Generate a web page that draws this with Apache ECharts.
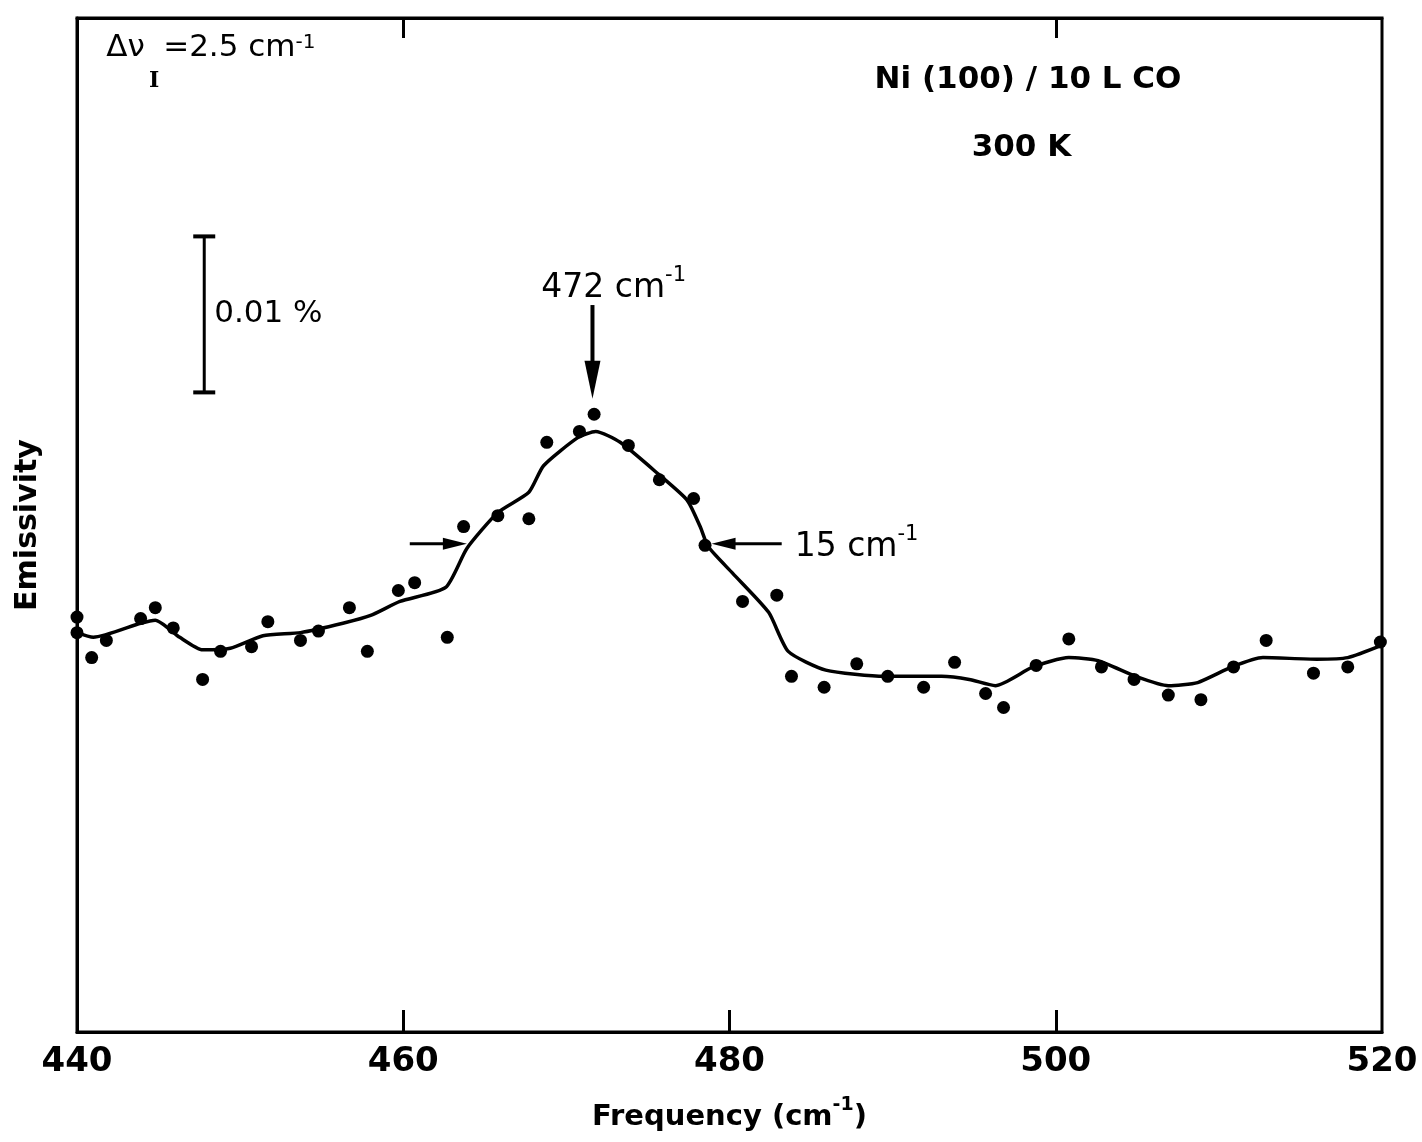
<!DOCTYPE html>
<html>
<head>
<meta charset="utf-8">
<script src="https://cdn.jsdelivr.net/npm/echarts@6/dist/echarts.min.js"></script>
<style>
  html, body { margin: 0; padding: 0; background: #fff; }
  #chart { width: 1422px; height: 1142px; }
</style>
</head>
<body>
<div id="chart"></div>
<script>
// measured points (frequency cm-1, emissivity in %)
var dotFreq = [440.0, 440.0, 440.9, 441.8, 443.9, 444.8, 445.9, 447.7, 448.8, 450.7,
  451.7, 453.7, 454.8, 456.7, 457.8, 459.7, 460.7, 462.7, 463.7, 465.8,
  467.7, 468.8, 470.8, 471.7, 473.8, 475.7, 477.8, 478.5, 480.8, 482.9,
  483.8, 485.8, 487.8, 489.7, 491.9, 493.8, 495.7, 496.8, 498.8, 500.8,
  502.8, 504.8, 506.9, 508.9, 510.9, 512.9, 515.8, 517.9, 519.9];
var dotEmis = [0.0266, 0.0256, 0.0240, 0.0251, 0.0265, 0.0272, 0.0259, 0.0226, 0.0244, 0.0247,
  0.0263, 0.0251, 0.0257, 0.0272, 0.0244, 0.0283, 0.0288, 0.0253, 0.0324, 0.0331,
  0.0329, 0.0378, 0.0385, 0.0396, 0.0376, 0.0354, 0.0342, 0.0312, 0.0276, 0.0280,
  0.0228, 0.0221, 0.0236, 0.0228, 0.0221, 0.0237, 0.0217, 0.0208, 0.0235, 0.0252,
  0.0234, 0.0226, 0.0216, 0.0213, 0.0234, 0.0251, 0.0230, 0.0234, 0.0250];

// smoothed curve
var fitFreq = [440.0, 441.0, 443.9, 444.8, 446.3, 447.7, 449.4, 451.4, 453.7, 456.3,
  458.0, 459.8, 462.6, 463.9, 465.8, 467.7, 468.6, 470.7, 471.8, 473.3,
  475.6, 477.4, 478.2, 478.7, 480.2, 482.4, 483.6, 485.9, 489.5, 493.0,
  494.7, 496.3, 498.6, 500.8, 502.6, 504.9, 506.9, 508.7, 510.8, 512.7,
  516.0, 517.9, 520.0];
var fitEmis = [0.0256, 0.0253, 0.0262, 0.0264, 0.0253, 0.0245, 0.0246, 0.0254, 0.0256, 0.0262,
  0.0267, 0.0276, 0.0285, 0.0310, 0.0333, 0.0346, 0.0363, 0.0381, 0.0385, 0.0378,
  0.0358, 0.0341, 0.0324, 0.0311, 0.0294, 0.0269, 0.0244, 0.0232, 0.0228, 0.0228,
  0.0226, 0.0222, 0.0234, 0.0240, 0.0238, 0.0228, 0.0222, 0.0224, 0.0234, 0.0240,
  0.0239, 0.0240, 0.0248];

var xTickLabels = [440, 460, 480, 500, 520];
var bottomTicks = [460, 480, 500];
var topTicks = [460, 500];

var FONT = 'DejaVu Sans';

var dots = dotFreq.map(function (f, i) { return [f, dotEmis[i]]; });
var fit = fitFreq.map(function (f, i) { return [f, fitEmis[i]]; });

var chart = echarts.init(document.getElementById('chart'));

var option = {
  animation: false,
  backgroundColor: '#fff',
  grid: {
    left: 77, right: 40, top: 18, bottom: 110,
    show: true, borderColor: '#000', borderWidth: 3
  },
  xAxis: [{
    type: 'value',
    min: 440, max: 520, interval: 20,
    position: 'bottom',
    axisLine: { show: true, lineStyle: { color: '#000', width: 3 } },
    axisTick: { show: true, inside: true, length: 22, customValues: bottomTicks, lineStyle: { color: '#000', width: 3 } },
    axisLabel: {
      color: '#000', fontFamily: FONT, fontSize: 34, fontWeight: 'bold', margin: 13,
      customValues: xTickLabels
    },
    splitLine: { show: false },
    name: '{t|Frequency (cm}{s|-1}{t|)}',
    nameLocation: 'middle',
    nameGap: 64,
    nameTextStyle: {
      rich: {
        t: { fontFamily: FONT, fontSize: 29, fontWeight: 'bold', color: '#000', lineHeight: 36, verticalAlign: 'bottom' },
        s: { fontFamily: FONT, fontSize: 19, fontWeight: 'bold', color: '#000', lineHeight: 36, verticalAlign: 'top' }
      }
    }
  }, {
    type: 'value',
    min: 440, max: 520,
    position: 'top',
    axisLine: { show: true, lineStyle: { color: '#000', width: 3 } },
    axisTick: { show: true, inside: true, length: 20, customValues: topTicks, lineStyle: { color: '#000', width: 3 } },
    axisLabel: { show: false },
    splitLine: { show: false }
  }],
  yAxis: {
    type: 'value',
    min: 0, max: 0.065,
    axisLine: { show: true, lineStyle: { color: '#000', width: 3 } },
    axisTick: { show: false },
    axisLabel: { show: false },
    splitLine: { show: false },
    name: 'Emissivity',
    nameLocation: 'middle',
    nameRotate: 90,
    nameGap: 34,
    nameTextStyle: { fontFamily: FONT, fontSize: 30, fontWeight: 'bold', color: '#000' }
  },
  series: [{
    name: 'fit',
    type: 'line',
    data: fit,
    smooth: 0.2,
    showSymbol: false,
    lineStyle: { color: '#000', width: 3.5 },
    z: 2
  }, {
    name: 'data',
    type: 'scatter',
    data: dots,
    symbolSize: 13,
    itemStyle: { color: '#000', opacity: 1 },
    z: 3
  }]
};
chart.setOption(option);

// annotations placed from data coordinates
function px(x, y) {
  return chart.convertToPixel({ xAxisIndex: 0, yAxisIndex: 0 }, [x, y]);
}

var g = [];

// scale bar 0.01 %
var b0 = px(447.8, 0.041), b1 = px(447.8, 0.051);
g.push({ type: 'line', shape: { x1: b0[0], y1: b0[1], x2: b1[0], y2: b1[1] }, style: { stroke: '#000', lineWidth: 3 } });
g.push({ type: 'line', shape: { x1: b0[0] - 11, y1: b0[1], x2: b0[0] + 11, y2: b0[1] }, style: { stroke: '#000', lineWidth: 4 } });
g.push({ type: 'line', shape: { x1: b1[0] - 11, y1: b1[1], x2: b1[0] + 11, y2: b1[1] }, style: { stroke: '#000', lineWidth: 4 } });
g.push({
  type: 'text', x: b0[0] + 10, y: (b0[1] + b1[1]) / 2,
  style: { text: '0.01 %', fontFamily: FONT, fontSize: 31, fill: '#000', verticalAlign: 'middle' }
});

// peak arrow 472 cm-1
var a0 = px(471.6, 0.0466), a1 = px(471.6, 0.0406);
g.push({ type: 'line', shape: { x1: a0[0], y1: a0[1], x2: a1[0], y2: a1[1] - 30 }, style: { stroke: '#000', lineWidth: 4 } });
g.push({ type: 'polygon', shape: { points: [[a1[0] - 8, a1[1] - 38], [a1[0] + 8, a1[1] - 38], [a1[0], a1[1]]] }, style: { fill: '#000' } });
var t472 = px(472.9, 0.0479);
g.push({
  type: 'text', x: t472[0], y: t472[1],
  style: {
    text: '{n|472 cm}{s|-1}', align: 'center', verticalAlign: 'middle',
    rich: {
      n: { fontFamily: FONT, fontSize: 33, fill: '#000', lineHeight: 40, verticalAlign: 'bottom' },
      s: { fontFamily: FONT, fontSize: 21, fill: '#000', lineHeight: 40, verticalAlign: 'top' }
    }
  }
});

// FWHM arrows
var l0 = px(460.4, 0.0313), l1 = px(463.9, 0.0313);
g.push({ type: 'line', shape: { x1: l0[0], y1: l0[1], x2: l1[0] - 22, y2: l1[1] }, style: { stroke: '#000', lineWidth: 3 } });
g.push({ type: 'polygon', shape: { points: [[l1[0] - 24, l1[1] - 6], [l1[0] - 24, l1[1] + 6], [l1[0], l1[1]]] }, style: { fill: '#000' } });
var r0 = px(483.2, 0.0313), r1 = px(478.9, 0.0313);
g.push({ type: 'line', shape: { x1: r0[0], y1: r0[1], x2: r1[0] + 22, y2: r1[1] }, style: { stroke: '#000', lineWidth: 3 } });
g.push({ type: 'polygon', shape: { points: [[r1[0] + 24, r1[1] - 6], [r1[0] + 24, r1[1] + 6], [r1[0], r1[1]]] }, style: { fill: '#000' } });
var t15 = px(484.0, 0.0313);
g.push({
  type: 'text', x: t15[0], y: t15[1],
  style: {
    text: '{n|15 cm}{s|-1}', align: 'left', verticalAlign: 'middle',
    rich: {
      n: { fontFamily: FONT, fontSize: 33, fill: '#000', lineHeight: 40, verticalAlign: 'bottom' },
      s: { fontFamily: FONT, fontSize: 21, fill: '#000', lineHeight: 40, verticalAlign: 'top' }
    }
  }
});

// resolution label: Δν with subscript I
var tr = px(441.8, 0.0629);
g.push({
  type: 'text', x: tr[0], y: tr[1] - 18,
  style: {
    text: '{n|Δν}{i|I}{n|=2.5 cm}{s|-1}', align: 'left', verticalAlign: 'top',
    rich: {
      n: { fontFamily: FONT, fontSize: 31, fill: '#000', lineHeight: 36, verticalAlign: 'top' },
      i: { fontFamily: 'DejaVu Serif', fontSize: 22, fontWeight: 'bold', fill: '#000', lineHeight: 60, verticalAlign: 'bottom', padding: [0, 4, 0, 4] },
      s: { fontFamily: FONT, fontSize: 20, fill: '#000', lineHeight: 24, verticalAlign: 'top' }
    }
  }
});

// sample label
var ts = px(498.3, 0.0610);
g.push({
  type: 'text', x: ts[0], y: ts[1],
  style: { text: 'Ni (100) / 10 L CO', fontFamily: FONT, fontSize: 31, fontWeight: 'bold', fill: '#000', align: 'center', verticalAlign: 'middle' }
});
var tk = px(497.9, 0.0567);
g.push({
  type: 'text', x: tk[0], y: tk[1],
  style: { text: '300 K', fontFamily: FONT, fontSize: 31, fontWeight: 'bold', fill: '#000', align: 'center', verticalAlign: 'middle' }
});

chart.setOption({ graphic: g });
</script>
</body>
</html>
